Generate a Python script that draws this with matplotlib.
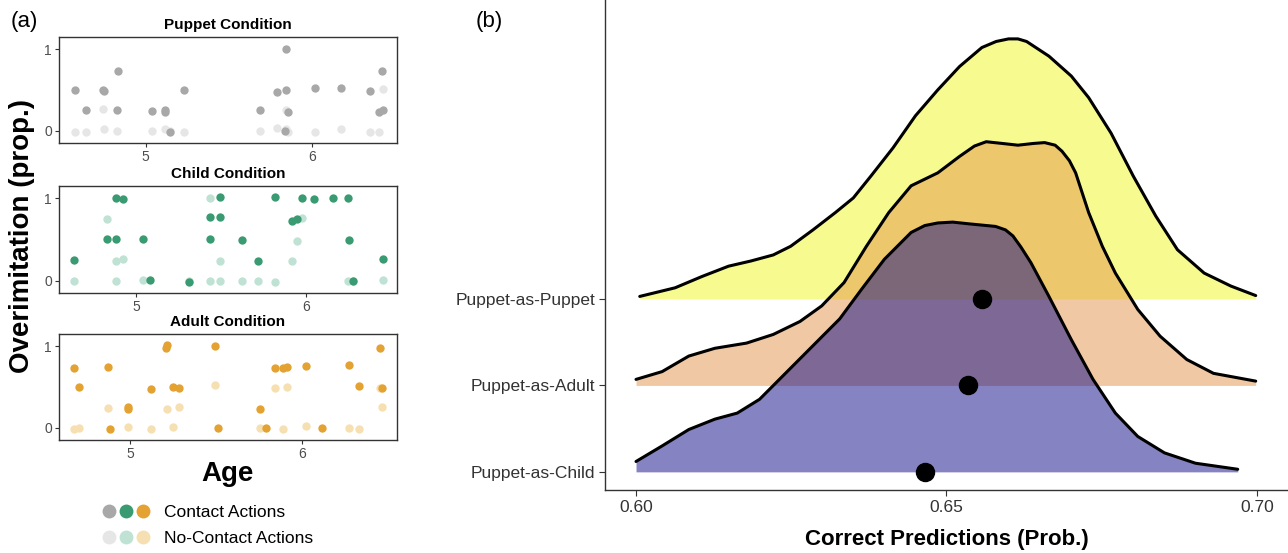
import matplotlib
matplotlib.use('Agg')
import matplotlib.pyplot as plt
from matplotlib.lines import Line2D
from matplotlib.legend_handler import HandlerTuple

plt.rcParams['font.family'] = ['Liberation Sans', 'DejaVu Sans']

# ---- panel (a): overimitation by age, per condition ----
puppet_contact_age = [4.572, 4.641, 4.741, 4.749, 4.835, 4.829, 5.040, 5.114, 5.114, 5.147, 5.231,
                      5.689, 5.791, 5.843, 5.847, 5.857, 5.839, 6.022, 6.177, 6.349, 6.422, 6.408, 6.428]
puppet_contact_val = [0.50, 0.25, 0.50, 0.49, 0.73, 0.26, 0.24, 0.26, 0.23, -0.02, 0.50,
                      0.26, 0.47, 1.00, 0.50, 0.23, 0.00, 0.53, 0.52, 0.49, 0.73, 0.23, 0.26]
puppet_nocontact_age = [4.572, 4.641, 4.741, 4.749, 4.829, 5.040, 5.114, 5.147, 5.231, 5.689,
                        5.791, 5.847, 5.857, 5.847, 6.022, 6.177, 6.349, 6.408, 6.428]
puppet_nocontact_val = [-0.02, -0.02, 0.27, 0.02, 0.00, 0.00, 0.02, 0.00, -0.01, 0.00,
                        0.03, 0.02, -0.01, 0.25, -0.02, 0.02, -0.02, -0.02, 0.51]

child_contact_age = [4.634, 4.878, 4.919, 4.827, 4.882, 5.041, 5.081, 5.309, 5.431, 5.431, 5.494, 5.494,
                     5.620, 5.719, 5.815, 5.917, 5.945, 5.978, 6.047, 6.156, 6.250, 6.252, 6.276, 6.453]
child_contact_val = [0.25, 1.00, 0.99, 0.50, 0.50, 0.51, 0.01, -0.02, 0.51, 0.77, 1.02, 0.77,
                     0.49, 0.24, 1.02, 0.73, 0.75, 1.00, 0.99, 1.00, 1.00, 0.49, 0.00, 0.26]
child_nocontact_age = [4.634, 4.827, 4.878, 4.919, 4.882, 5.041, 5.309, 5.431, 5.431, 5.494, 5.494,
                       5.620, 5.719, 5.815, 5.917, 5.978, 5.945, 6.250, 6.276, 6.453]
child_nocontact_val = [0.00, 0.75, 0.24, 0.26, 0.00, 0.01, -0.01, 1.00, 0.00, 0.24, -0.01,
                       0.00, 0.00, -0.02, 0.24, 0.76, 0.48, 0.00, -0.01, 0.01]

adult_contact_age = [4.674, 4.702, 4.870, 4.880, 4.986, 4.986, 5.122, 5.209, 5.215, 5.246, 5.281, 5.490,
                     5.512, 5.754, 5.791, 5.839, 5.889, 5.911, 6.019, 6.116, 6.271, 6.327, 6.452, 6.465]
adult_contact_val = [0.73, 0.50, 0.75, -0.01, 0.26, 0.23, 0.48, 0.98, 1.01, 0.50, 0.49, 1.00,
                     0.00, 0.23, 0.00, 0.73, 0.73, 0.74, 0.76, 0.00, 0.77, 0.51, 0.98, 0.49]
adult_nocontact_age = [4.674, 4.702, 4.870, 4.986, 5.122, 5.215, 5.246, 5.281, 5.490, 5.754,
                       5.839, 5.889, 5.911, 6.019, 6.271, 6.327, 6.465, 6.452]
adult_nocontact_val = [-0.02, 0.00, 0.24, 0.01, -0.01, 0.23, 0.01, 0.26, 0.52, 0.00,
                       0.49, -0.02, 0.50, 0.02, 0.00, -0.02, 0.25, 0.49]

# ---- panel (b): posterior densities of correct predictions ----
ridge_labels = ['Puppet-as-Child', 'Puppet-as-Adult', 'Puppet-as-Puppet']

puppet_x = [0.6006, 0.6063, 0.6106, 0.6149, 0.6185, 0.6221, 0.6249, 0.6285, 0.6321, 0.6350, 0.6378,
            0.6414, 0.6450, 0.6486, 0.6521, 0.6557, 0.6580, 0.6600, 0.6615, 0.6629, 0.6665, 0.6701,
            0.6729, 0.6765, 0.6801, 0.6837, 0.6872, 0.6915, 0.6958, 0.6998]
puppet_h = [0.03, 0.13, 0.26, 0.38, 0.44, 0.51, 0.61, 0.80, 1.00, 1.17, 1.42,
            1.75, 2.12, 2.42, 2.69, 2.91, 2.98, 3.01, 3.01, 2.98, 2.81, 2.58,
            2.33, 1.92, 1.42, 0.96, 0.57, 0.30, 0.15, 0.04]

adult_x = [0.6000, 0.6042, 0.6085, 0.6127, 0.6178, 0.6221, 0.6264, 0.6299, 0.6335, 0.6371, 0.6407,
           0.6443, 0.6486, 0.6521, 0.6545, 0.6564, 0.6590, 0.6615, 0.6640, 0.6658, 0.6675, 0.6686,
           0.6698, 0.6708, 0.6729, 0.6751, 0.6772, 0.6808, 0.6844, 0.6887, 0.6930, 0.6998]
adult_h = [0.07, 0.16, 0.34, 0.43, 0.49, 0.59, 0.74, 0.92, 1.19, 1.61, 2.00,
           2.31, 2.46, 2.65, 2.77, 2.82, 2.80, 2.78, 2.80, 2.81, 2.78, 2.71,
           2.60, 2.46, 2.00, 1.61, 1.30, 0.88, 0.57, 0.30, 0.14, 0.05]

child_x = [0.6000, 0.6042, 0.6085, 0.6127, 0.6163, 0.6199, 0.6242, 0.6285, 0.6328, 0.6364, 0.6400,
           0.6443, 0.6465, 0.6486, 0.6510, 0.6536, 0.6579, 0.6595, 0.6607, 0.6620, 0.6636, 0.6665,
           0.6701, 0.6736, 0.6772, 0.6808, 0.6851, 0.6901, 0.6969]
child_h = [0.12, 0.30, 0.49, 0.61, 0.68, 0.84, 1.15, 1.46, 1.77, 2.12, 2.46,
           2.77, 2.85, 2.88, 2.89, 2.87, 2.84, 2.80, 2.73, 2.60, 2.42, 2.03,
           1.53, 1.07, 0.68, 0.41, 0.22, 0.10, 0.03]

ridge_means = [0.6466, 0.6534, 0.6557]   # child, adult, puppet


def scatter_panel(ax, title, cx, cy, nx, ny, dark, light, xlim):
    ax.scatter(nx, ny, s=36, color=light, linewidths=0, zorder=2)
    ax.scatter(cx, cy, s=36, color=dark, linewidths=0, zorder=3)
    ax.set_xlim(*xlim)
    ax.set_ylim(-0.15, 1.15)
    ax.set_xticks([5, 6])
    ax.set_yticks([0, 1])
    ax.set_title(title, fontsize=11, fontweight='bold', pad=6)
    for s in ax.spines.values():
        s.set_color('#333333')
        s.set_linewidth(1.0)
    ax.tick_params(length=3, width=0.8, color='#333333', labelsize=10,
                   labelcolor='#4d4d4d', pad=2)


fig = plt.figure(figsize=(12.88, 5.53), dpi=100)

ax_p = fig.add_axes([0.0458, 0.7414, 0.2624, 0.1917])
ax_c = fig.add_axes([0.0458, 0.4702, 0.2624, 0.1935])
ax_a = fig.add_axes([0.0458, 0.2043, 0.2624, 0.1917])

scatter_panel(ax_p, 'Puppet Condition', puppet_contact_age, puppet_contact_val,
              puppet_nocontact_age, puppet_nocontact_val, '#a8a8a8', '#e6e6e6', (4.478, 6.514))
scatter_panel(ax_c, 'Child Condition', child_contact_age, child_contact_val,
              child_nocontact_age, child_nocontact_val, '#3a9b73', '#bfe2d4', (4.543, 6.536))
scatter_panel(ax_a, 'Adult Condition', adult_contact_age, adult_contact_val,
              adult_nocontact_age, adult_nocontact_val, '#e4a232', '#f6dfb0', (4.585, 6.550))

ax_a.set_xlabel('Age', fontsize=20, fontweight='bold', labelpad=0)
fig.text(0.017, 0.573, 'Overimitation (prop.)', rotation=90, fontsize=20,
         fontweight='bold', ha='center', va='center')

# legend
dark_h = tuple(Line2D([], [], marker='o', ls='', ms=10, mec='none', color=c)
               for c in ['#a8a8a8', '#3a9b73', '#e4a232'])
light_h = tuple(Line2D([], [], marker='o', ls='', ms=10, mec='none', color=c)
                for c in ['#e6e6e6', '#bfe2d4', '#f6dfb0'])
fig.legend([dark_h, light_h], ['Contact Actions', 'No-Contact Actions'],
           handler_map={tuple: HandlerTuple(ndivide=None, pad=0.0)},
           loc='center left', bbox_to_anchor=(0.066, 0.050), frameon=False,
           fontsize=12.5, handlelength=2.9, handletextpad=0.75, labelspacing=0.65)

fig.text(0.008, 0.962, '(a)', fontsize=16, va='center')
fig.text(0.369, 0.962, '(b)', fontsize=16, va='center')

# ridges
ax_r = fig.add_axes([0.4697, 0.1139, 0.5303, 0.8861])
ridges = [(puppet_x, puppet_h, '#f0f921', 3),
          (adult_x, adult_h, '#e3954b', 2),
          (child_x, child_h, '#0d0887', 1)]
z = 1
for xs, hs, col, base in ridges:
    top = [base + h for h in hs]
    ax_r.fill_between(xs, base, top, color=col, alpha=0.5, linewidth=0, zorder=z)
    ax_r.plot(xs, top, color='black', lw=2.2, zorder=z + 0.5,
              solid_capstyle='round', solid_joinstyle='round')
    z += 1
ax_r.plot(ridge_means, [1, 2, 3], 'o', color='black', ms=13, zorder=10)

ax_r.set_xlim(0.595, 0.705)
ax_r.set_ylim(0.79, 6.46)
ax_r.set_xticks([0.60, 0.65, 0.70])
ax_r.set_xticklabels(['0.60', '0.65', '0.70'])
ax_r.set_yticks([1, 2, 3])
ax_r.set_yticklabels(ridge_labels)
ax_r.spines['top'].set_visible(False)
ax_r.spines['right'].set_visible(False)
for s in ['left', 'bottom']:
    ax_r.spines[s].set_color('#333333')
    ax_r.spines[s].set_linewidth(1.0)
ax_r.tick_params(length=4, width=0.8, color='#333333', labelsize=12.5,
                 labelcolor='#333333', pad=3)
ax_r.set_xlabel('Correct Predictions (Prob.)', fontsize=16, fontweight='bold', labelpad=10)

fig.savefig('out.png', dpi=100)
